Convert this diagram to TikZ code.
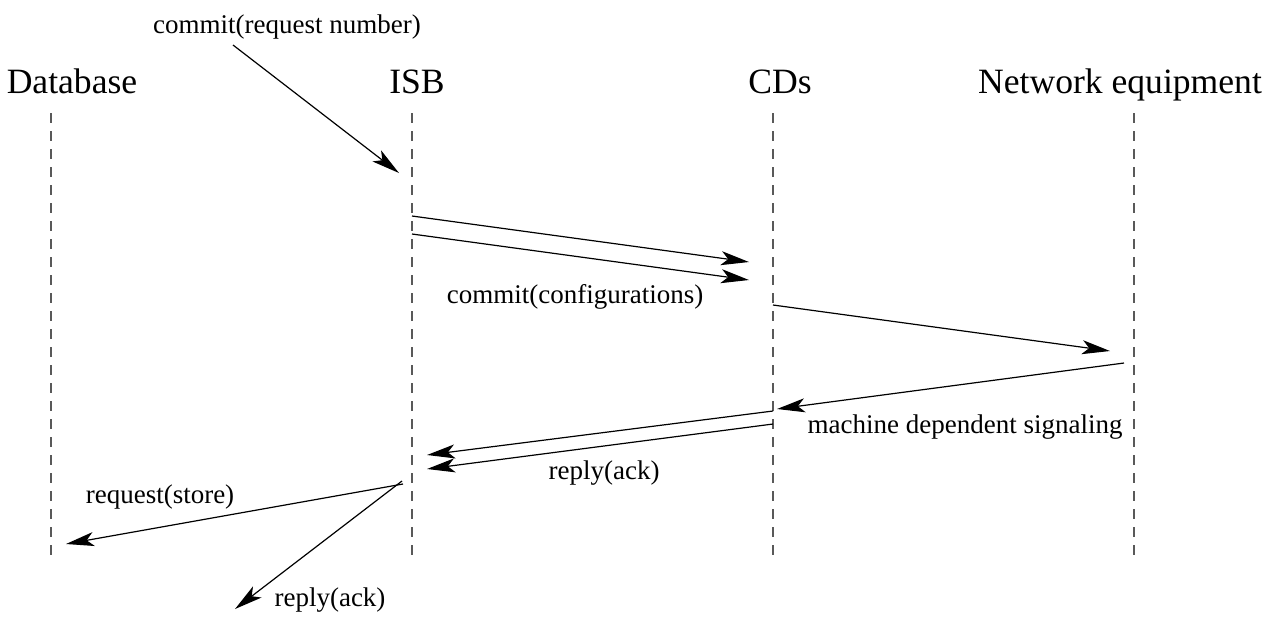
\documentclass[tikz,border=0pt]{standalone}
\usepackage{fontspec}
\setmainfont{Liberation Serif}
\usetikzlibrary{arrows.meta}
\begin{document}
\begin{tikzpicture}[x=0.5pt,y=-0.5pt,
  title/.style={font=\fontsize{17.8}{20}\selectfont, anchor=base, inner sep=0},
  lbl/.style={font=\fontsize{13.5}{16}\selectfont, anchor=base, inner sep=0},
  life/.style={draw=black!65, line width=0.65pt, dash pattern=on 5pt off 4pt},
  msg/.style={line width=0.6pt, -{Stealth[length=14pt,width=7pt,inset=3.5pt]}}]
\useasboundingbox (0,0) rectangle (1277,617);
% titles
\node[title] (tdb)  at (72,93)   {Database};
\node[title] (tisb) at (417,93)  {ISB};
\node[title] (tcds) at (780,93)  {CDs};
\node[title] (tnet) at (1120,93) {Network equipment};
% lifelines
\coordinate (dbT) at (51,113);   \coordinate (dbB) at (51,557);
\coordinate (isbT) at (412,113); \coordinate (isbB) at (412,557);
\coordinate (cdsT) at (773,113); \coordinate (cdsB) at (773,557);
\coordinate (netT) at (1134,113);\coordinate (netB) at (1134,557);
\draw[life] (dbT) -- (dbB);
\draw[life] (isbT) -- (isbB);
\draw[life] (cdsT) -- (cdsB);
\draw[life] (netT) -- (netB);
% message end points
\coordinate (m0s) at (233,45);   \coordinate (m0e) at (399,173);
\coordinate (m1s) at (412,216);  \coordinate (m1e) at (749,262);
\coordinate (m2s) at (412,234);  \coordinate (m2e) at (749,280);
\coordinate (m3s) at (773,305);  \coordinate (m3e) at (1110,351);
\coordinate (m4s) at (1124,363); \coordinate (m4e) at (777,409);
\coordinate (m5s) at (773,411);  \coordinate (m5e) at (427,455);
\coordinate (m6s) at (773,424);  \coordinate (m6e) at (427,469);
\coordinate (m7s) at (403,484);  \coordinate (m7e) at (66,544);
\coordinate (m8s) at (402,481);  \coordinate (m8e) at (235,609);
\draw[msg] (m0s) -- (m0e);
\draw[msg] (m1s) -- (m1e);
\draw[msg] (m2s) -- (m2e);
\draw[msg] (m3s) -- (m3e);
\draw[msg] (m4s) -- (m4e);
\draw[msg] (m5s) -- (m5e);
\draw[msg] (m6s) -- (m6e);
\draw[msg] (m7s) -- (m7e);
\draw[msg] (m8s) -- (m8e);
% labels
\node[lbl] (l0) at (287,33)  {commit(request number)};
\node[lbl] (l1) at (575,303) {commit(configurations)};
\node[lbl] (l2) at (965,433) {machine dependent signaling};
\node[lbl] (l3) at (604,479) {reply(ack)};
\node[lbl] (l4) at (160,503) {request(store)};
\node[lbl] (l5) at (330,606) {reply(ack)};
\end{tikzpicture}
\end{document}
